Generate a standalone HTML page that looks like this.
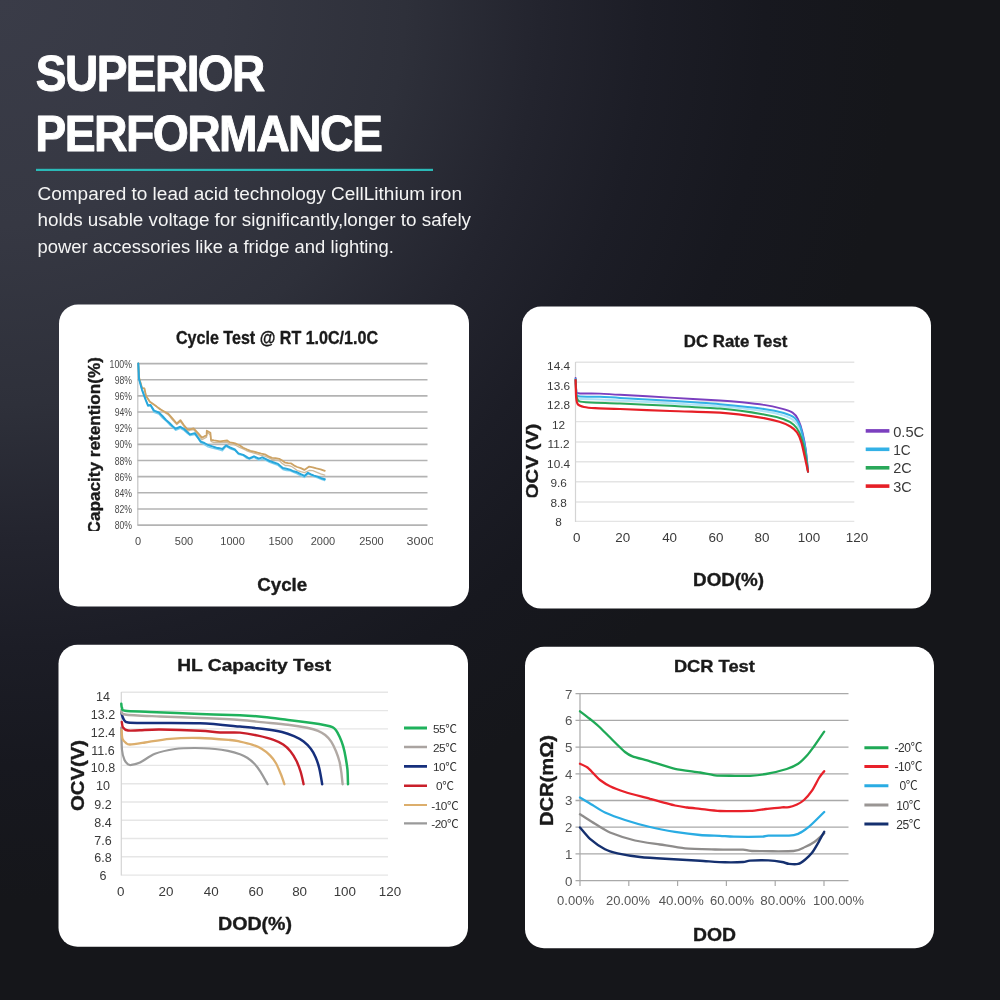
<!DOCTYPE html>
<html lang="en">
<head>
<meta charset="utf-8">
<title>Superior Performance</title>
<style>
html,body{margin:0;padding:0;}
body{width:1000px;height:1000px;overflow:hidden;background:#15161b;}
#page{position:relative;width:1000px;height:1000px;overflow:hidden;
background:radial-gradient(circle 900px at 0px 0px,#3a3c48 0%,#363843 25%,#2e303a 45%,#23242e 60%,#1c1d26 72%,#17181f 85%,#15161a 100%);}
svg{position:absolute;left:0;top:0;display:block;font-family:'Liberation Sans','Noto Sans CJK SC',sans-serif;}
text{white-space:pre;}
</style>
</head>
<body>
<div id="page">
<svg width="1000" height="1000" viewBox="0 0 1000 1000">
<rect x="59" y="304.5" width="410" height="302" rx="19" ry="19" fill="#fff"/>
<rect x="522" y="306.6" width="409" height="302" rx="19" ry="19" fill="#fff"/>
<rect x="58.5" y="644.7" width="409.5" height="302" rx="19" ry="19" fill="#fff"/>
<rect x="525" y="646.8" width="409" height="301.5" rx="19" ry="19" fill="#fff"/>
<text x="35.80" y="91.00" font-size="49.5" text-anchor="start" fill="#fff" font-weight="bold" textLength="228.0" lengthAdjust="spacingAndGlyphs" stroke="#fff" stroke-width="0.9" stroke-linejoin="round" letter-spacing="-1.7">SUPERIOR</text>
<text x="35.30" y="151.00" font-size="49.5" text-anchor="start" fill="#fff" font-weight="bold" textLength="346.0" lengthAdjust="spacingAndGlyphs" stroke="#fff" stroke-width="0.9" stroke-linejoin="round" letter-spacing="-1.7">PERFORMANCE</text>
<rect x="36" y="168.8" width="397" height="2.2" fill="#2bb9b7"/>
<text x="37.50" y="200.20" font-size="18.3" text-anchor="start" fill="#f4f4f4" textLength="424.5" lengthAdjust="spacingAndGlyphs" >Compared to lead acid technology CellLithium iron</text>
<text x="37.50" y="226.30" font-size="18.3" text-anchor="start" fill="#f4f4f4" textLength="433.5" lengthAdjust="spacingAndGlyphs" >holds usable voltage for significantly,longer to safely</text>
<text x="37.50" y="252.60" font-size="18.3" text-anchor="start" fill="#f4f4f4" textLength="356.5" lengthAdjust="spacingAndGlyphs" >power accessories like a fridge and lighting.</text>
<g id="c1">
<clipPath id="cl1"><rect x="59" y="304.5" width="373.5" height="226.5"/></clipPath>
<line x1="137.80" y1="363.00" x2="137.80" y2="525.50" stroke="#c4c4c4" stroke-width="1.2"/>
<line x1="137.50" y1="363.60" x2="427.50" y2="363.60" stroke="#b3b3b3" stroke-width="1.6"/>
<text x="132.00" y="367.69" font-size="10.6" text-anchor="end" fill="#4a4a4a" textLength="22.5" lengthAdjust="spacingAndGlyphs" >100%</text>
<line x1="137.50" y1="379.75" x2="427.50" y2="379.75" stroke="#b3b3b3" stroke-width="1.6"/>
<text x="132.00" y="383.84" font-size="10.6" text-anchor="end" fill="#4a4a4a" textLength="17.3" lengthAdjust="spacingAndGlyphs" >98%</text>
<line x1="137.50" y1="395.90" x2="427.50" y2="395.90" stroke="#b3b3b3" stroke-width="1.6"/>
<text x="132.00" y="399.99" font-size="10.6" text-anchor="end" fill="#4a4a4a" textLength="17.3" lengthAdjust="spacingAndGlyphs" >96%</text>
<line x1="137.50" y1="412.05" x2="427.50" y2="412.05" stroke="#b3b3b3" stroke-width="1.6"/>
<text x="132.00" y="416.14" font-size="10.6" text-anchor="end" fill="#4a4a4a" textLength="17.3" lengthAdjust="spacingAndGlyphs" >94%</text>
<line x1="137.50" y1="428.20" x2="427.50" y2="428.20" stroke="#b3b3b3" stroke-width="1.6"/>
<text x="132.00" y="432.29" font-size="10.6" text-anchor="end" fill="#4a4a4a" textLength="17.3" lengthAdjust="spacingAndGlyphs" >92%</text>
<line x1="137.50" y1="444.35" x2="427.50" y2="444.35" stroke="#b3b3b3" stroke-width="1.6"/>
<text x="132.00" y="448.44" font-size="10.6" text-anchor="end" fill="#4a4a4a" textLength="17.3" lengthAdjust="spacingAndGlyphs" >90%</text>
<line x1="137.50" y1="460.50" x2="427.50" y2="460.50" stroke="#b3b3b3" stroke-width="1.6"/>
<text x="132.00" y="464.59" font-size="10.6" text-anchor="end" fill="#4a4a4a" textLength="17.3" lengthAdjust="spacingAndGlyphs" >88%</text>
<line x1="137.50" y1="476.65" x2="427.50" y2="476.65" stroke="#b3b3b3" stroke-width="1.6"/>
<text x="132.00" y="480.74" font-size="10.6" text-anchor="end" fill="#4a4a4a" textLength="17.3" lengthAdjust="spacingAndGlyphs" >86%</text>
<line x1="137.50" y1="492.80" x2="427.50" y2="492.80" stroke="#b3b3b3" stroke-width="1.6"/>
<text x="132.00" y="496.89" font-size="10.6" text-anchor="end" fill="#4a4a4a" textLength="17.3" lengthAdjust="spacingAndGlyphs" >84%</text>
<line x1="137.50" y1="508.95" x2="427.50" y2="508.95" stroke="#b3b3b3" stroke-width="1.6"/>
<text x="132.00" y="513.04" font-size="10.6" text-anchor="end" fill="#4a4a4a" textLength="17.3" lengthAdjust="spacingAndGlyphs" >82%</text>
<line x1="137.50" y1="525.10" x2="427.50" y2="525.10" stroke="#b3b3b3" stroke-width="1.6"/>
<text x="132.00" y="529.19" font-size="10.6" text-anchor="end" fill="#4a4a4a" textLength="17.3" lengthAdjust="spacingAndGlyphs" >80%</text>
<text x="277.00" y="344.00" font-size="18.3" text-anchor="middle" fill="#1a1a1a" font-weight="bold" stroke="#1a1a1a" stroke-width="0.35" stroke-linejoin="round" textLength="202.0" lengthAdjust="spacingAndGlyphs" >Cycle Test @ RT 1.0C/1.0C</text>
<g clip-path="url(#cl1)">
<text x="100.20" y="533.50" font-size="16.5" text-anchor="start" fill="#1a1a1a" font-weight="bold" stroke="#1a1a1a" stroke-width="0.35" stroke-linejoin="round" textLength="176.5" lengthAdjust="spacingAndGlyphs" transform="rotate(-90 100.20 533.50)" >Capacity retention(%)</text>
</g>
<text x="138.00" y="545.34" font-size="11" text-anchor="middle" fill="#4a4a4a" >0</text>
<text x="184.00" y="545.34" font-size="11" text-anchor="middle" fill="#4a4a4a" >500</text>
<text x="232.60" y="545.34" font-size="11" text-anchor="middle" fill="#4a4a4a" >1000</text>
<text x="280.80" y="545.34" font-size="11" text-anchor="middle" fill="#4a4a4a" >1500</text>
<text x="323.00" y="545.34" font-size="11" text-anchor="middle" fill="#4a4a4a" >2000</text>
<text x="371.40" y="545.34" font-size="11" text-anchor="middle" fill="#4a4a4a" >2500</text>
<clipPath id="cl1b"><rect x="59" y="304.5" width="374" height="302"/></clipPath>
<g clip-path="url(#cl1b)">
<text x="406.50" y="545.34" font-size="11" text-anchor="start" fill="#4a4a4a" textLength="28.0" lengthAdjust="spacingAndGlyphs" >3000</text>
</g>
<text x="282.20" y="591.24" font-size="18" text-anchor="middle" fill="#1a1a1a" font-weight="bold" stroke="#1a1a1a" stroke-width="0.35" stroke-linejoin="round" textLength="50.0" lengthAdjust="spacingAndGlyphs" >Cycle</text>
<polyline points="138.3,363.4 139.2,378.0 142.0,387.8 144.4,388.3 146.0,396.2 149.8,401.4 153.2,404.2 156.6,406.5 160.0,408.6 164.2,412.2 168.4,414.9 172.6,420.1 176.8,424.6 180.4,421.6 184.0,426.4 187.6,431.3 190.6,430.0 193.6,429.5 197.8,434.7 202.0,439.8 206.6,437.1 206.8,432.1 210.4,435.1 211.0,441.3 214.0,442.6 217.0,442.4 220.0,442.6 223.6,442.3 227.2,442.2 230.0,444.5 233.0,444.5 236.0,445.5 239.6,447.3 243.2,448.9 246.8,450.8 250.4,452.2 254.0,453.1 257.6,454.1 261.2,455.5 264.8,456.1 268.4,457.6 272.0,459.4 275.6,460.0 279.2,460.6 282.2,463.4 285.2,465.5 288.2,465.5 291.2,466.3 294.2,468.2 297.2,470.5 300.8,471.7 304.4,472.6 309.2,470.5 312.8,470.7 316.4,472.1 320.6,473.8 324.8,475.0" fill="none" stroke="#cdbb9f" stroke-width="1.3" stroke-linejoin="round" stroke-linecap="round" />
<polyline points="138.3,363.4 139.0,379.0 142.0,389.5 145.6,399.4 148.0,404.9 150.4,405.0 154.0,412.5 158.8,414.1 162.4,418.0 166.0,421.0 169.2,424.4 172.4,427.3 175.6,430.3 180.4,428.4 184.0,430.5 187.0,433.3 190.0,435.6 194.8,434.6 197.8,438.2 200.8,443.0 204.4,444.7 208.0,446.9 212.2,448.2 216.4,449.2 219.4,449.9 222.4,450.8 226.0,446.5 230.0,448.8 234.8,450.3 238.4,454.4 243.2,455.6 246.2,458.1 249.2,459.2 254.0,457.5 258.8,460.1 262.4,459.4 266.0,460.4 269.6,462.5 273.8,463.8 278.0,465.4 282.8,469.5 286.4,470.5 290.0,470.8 293.6,472.4 297.2,473.9 300.8,475.9 304.4,477.5 308.0,473.7 311.0,475.2 314.0,476.7 317.6,477.9 321.2,479.4 324.8,480.6" fill="none" stroke="#7fd0f0" stroke-width="1.3" stroke-linejoin="round" stroke-linecap="round" />
<polyline points="138.3,363.4 139.2,378.0 142.0,388.1 144.4,388.4 146.0,395.7 149.8,401.7 153.2,404.1 156.6,406.6 160.0,409.3 164.2,411.5 168.4,413.8 172.6,418.7 176.8,423.5 180.4,420.1 184.0,425.2 187.6,429.6 190.6,429.1 193.6,428.4 197.8,432.9 202.0,437.7 206.6,435.1 206.8,430.7 210.4,432.7 211.0,439.9 214.0,440.4 217.0,440.8 220.0,441.3 223.6,440.8 227.2,440.5 230.0,442.4 233.0,442.9 236.0,443.7 239.6,445.3 243.2,447.7 246.8,449.3 250.4,450.8 254.0,451.7 257.6,452.7 261.2,453.6 264.8,454.3 268.4,456.3 272.0,457.9 275.6,458.2 279.2,458.8 282.2,460.6 285.2,462.7 288.2,463.2 291.2,463.4 294.2,465.6 297.2,467.0 300.8,468.1 304.4,469.9 309.2,466.6 312.8,467.3 316.4,468.4 320.6,469.3 324.8,470.8" fill="none" stroke="#cda365" stroke-width="1.8" stroke-linejoin="round" stroke-linecap="round" />
<polyline points="138.3,363.4 139.0,379.0 142.0,389.8 145.6,399.7 148.0,405.7 150.4,404.9 154.0,410.6 158.8,412.5 162.4,416.0 166.0,420.0 169.2,422.8 172.4,426.0 175.6,428.7 180.4,426.8 184.0,429.0 187.0,431.8 190.0,434.4 194.8,433.2 197.8,437.4 200.8,441.6 204.4,443.0 208.0,445.0 212.2,446.4 216.4,447.7 219.4,448.3 222.4,449.0 226.0,445.4 230.0,447.5 234.8,449.5 238.4,453.4 243.2,454.9 246.2,456.7 249.2,458.5 254.0,456.3 258.8,458.6 262.4,457.4 266.0,459.2 269.6,461.0 273.8,462.5 278.0,463.9 282.8,468.0 286.4,468.7 290.0,469.7 293.6,471.3 297.2,472.3 300.8,474.2 304.4,475.9 308.0,472.8 311.0,474.3 314.0,475.6 317.6,476.6 321.2,478.2 324.8,479.2" fill="none" stroke="#27a7dc" stroke-width="2.0" stroke-linejoin="round" stroke-linecap="round" />
</g>
<g id="c2">
<clipPath id="cl2"><rect x="522" y="306.6" width="409" height="190.6"/></clipPath>
<line x1="575.50" y1="362.30" x2="854.30" y2="362.30" stroke="#e4e4e4" stroke-width="1.4"/>
<text x="558.60" y="370.42" font-size="11.8" text-anchor="middle" fill="#3a3a3a" >14.4</text>
<line x1="575.50" y1="382.10" x2="854.30" y2="382.10" stroke="#e4e4e4" stroke-width="1.4"/>
<text x="558.60" y="390.02" font-size="11.8" text-anchor="middle" fill="#3a3a3a" >13.6</text>
<line x1="575.50" y1="401.80" x2="854.30" y2="401.80" stroke="#e4e4e4" stroke-width="1.4"/>
<text x="558.60" y="409.02" font-size="11.8" text-anchor="middle" fill="#3a3a3a" >12.8</text>
<line x1="575.50" y1="421.60" x2="854.30" y2="421.60" stroke="#e4e4e4" stroke-width="1.4"/>
<text x="558.60" y="429.02" font-size="11.8" text-anchor="middle" fill="#3a3a3a" >12</text>
<line x1="575.50" y1="442.00" x2="854.30" y2="442.00" stroke="#e4e4e4" stroke-width="1.4"/>
<text x="558.60" y="448.42" font-size="11.8" text-anchor="middle" fill="#3a3a3a" >11.2</text>
<line x1="575.50" y1="461.80" x2="854.30" y2="461.80" stroke="#e4e4e4" stroke-width="1.4"/>
<text x="558.60" y="468.22" font-size="11.8" text-anchor="middle" fill="#3a3a3a" >10.4</text>
<line x1="575.50" y1="481.70" x2="854.30" y2="481.70" stroke="#e4e4e4" stroke-width="1.4"/>
<text x="558.60" y="487.22" font-size="11.8" text-anchor="middle" fill="#3a3a3a" >9.6</text>
<line x1="575.50" y1="502.00" x2="854.30" y2="502.00" stroke="#e4e4e4" stroke-width="1.4"/>
<text x="558.60" y="506.62" font-size="11.8" text-anchor="middle" fill="#3a3a3a" >8.8</text>
<line x1="575.50" y1="521.40" x2="854.30" y2="521.40" stroke="#e4e4e4" stroke-width="1.4"/>
<text x="558.60" y="526.02" font-size="11.8" text-anchor="middle" fill="#3a3a3a" >8</text>
<line x1="575.50" y1="362.00" x2="575.50" y2="522.00" stroke="#d4d4d4" stroke-width="1.2"/>
<text x="735.60" y="347.00" font-size="16.5" text-anchor="middle" fill="#1a1a1a" font-weight="bold" stroke="#1a1a1a" stroke-width="0.35" stroke-linejoin="round" textLength="103.5" lengthAdjust="spacingAndGlyphs" >DC Rate Test</text>
<g clip-path="url(#cl2)">
<text x="538.30" y="499.00" font-size="16.8" text-anchor="start" fill="#1a1a1a" font-weight="bold" stroke="#1a1a1a" stroke-width="0.35" stroke-linejoin="round" textLength="75.5" lengthAdjust="spacingAndGlyphs" transform="rotate(-90 538.30 499.00)" >OCV (V)</text>
</g>
<text x="576.80" y="541.70" font-size="13.4" text-anchor="middle" fill="#3a3a3a" >0</text>
<text x="622.80" y="541.70" font-size="13.4" text-anchor="middle" fill="#3a3a3a" >20</text>
<text x="669.60" y="541.70" font-size="13.4" text-anchor="middle" fill="#3a3a3a" >40</text>
<text x="716.00" y="541.70" font-size="13.4" text-anchor="middle" fill="#3a3a3a" >60</text>
<text x="762.00" y="541.70" font-size="13.4" text-anchor="middle" fill="#3a3a3a" >80</text>
<text x="809.00" y="541.70" font-size="13.4" text-anchor="middle" fill="#3a3a3a" >100</text>
<text x="857.00" y="541.70" font-size="13.4" text-anchor="middle" fill="#3a3a3a" >120</text>
<text x="728.60" y="585.56" font-size="17.5" text-anchor="middle" fill="#1a1a1a" font-weight="bold" stroke="#1a1a1a" stroke-width="0.35" stroke-linejoin="round" textLength="71.0" lengthAdjust="spacingAndGlyphs" >DOD(%)</text>
<path d="M577.0,396.0 C577.3,396.4 575.9,398.3 579.0,398.8 C582.1,399.3 594.5,399.2 600.0,399.4 C605.5,399.6 610.7,400.0 620.0,400.5 C629.3,401.0 656.7,402.4 670.0,403.2 C683.3,404.0 707.5,405.2 720.0,406.3 C732.5,407.4 755.5,410.0 764.0,411.2 C772.5,412.4 779.7,414.3 783.8,415.6 C787.9,416.9 792.4,419.1 794.5,421.0 C796.6,422.9 798.6,426.6 799.8,429.5 C801.0,432.4 802.9,439.5 803.8,443.0 C804.7,446.5 805.6,452.2 806.2,456.0 C806.8,459.8 807.8,469.5 808.0,471.6" fill="none" stroke="#aee3f6" stroke-width="2.0" stroke-linejoin="round" stroke-linecap="round"/>
<path d="M575.6,378.0 C575.7,379.6 575.9,388.0 576.3,390.0 C576.7,392.0 575.3,392.7 578.5,393.2 C581.7,393.7 594.5,393.4 600.0,393.6 C605.5,393.8 610.7,394.3 620.0,394.8 C629.3,395.3 656.7,396.8 670.0,397.6 C683.3,398.4 710.4,399.9 720.0,400.5 C729.6,401.1 736.1,401.7 742.0,402.3 C747.9,402.9 758.7,404.1 764.0,404.9 C769.3,405.7 777.8,407.6 781.6,408.6 C785.4,409.6 790.4,411.2 792.6,412.6 C794.8,414.0 796.7,416.6 798.0,419.2 C799.3,421.8 801.5,428.3 802.5,432.4 C803.5,436.5 805.1,444.8 805.8,450.0 C806.5,455.2 807.7,468.7 808.0,471.6" fill="none" stroke="#7b3fbf" stroke-width="1.9" stroke-linejoin="round" stroke-linecap="round"/>
<path d="M575.6,379.0 C575.7,380.7 575.9,389.7 576.3,392.0 C576.7,394.3 575.3,395.6 578.5,396.2 C581.7,396.8 594.5,396.6 600.0,396.8 C605.5,397.0 610.7,397.4 620.0,397.9 C629.3,398.4 656.7,400.0 670.0,400.8 C683.3,401.6 707.5,403.1 720.0,404.2 C732.5,405.3 755.5,407.7 764.0,408.9 C772.5,410.1 779.7,411.8 783.8,413.0 C787.9,414.2 792.6,416.2 794.8,418.1 C797.0,420.0 799.1,423.8 800.3,426.9 C801.5,430.0 803.2,437.5 804.0,441.2 C804.8,444.9 805.8,450.9 806.3,455.0 C806.8,459.1 807.8,469.4 808.0,471.6" fill="none" stroke="#33b1e6" stroke-width="2.0" stroke-linejoin="round" stroke-linecap="round"/>
<path d="M575.6,380.0 C575.7,382.1 576.0,393.2 576.5,396.0 C577.0,398.8 577.2,400.3 579.0,401.2 C580.8,402.1 584.5,402.3 590.0,402.6 C595.5,402.9 609.3,403.2 620.0,403.6 C630.7,404.0 656.7,405.1 670.0,405.8 C683.3,406.5 707.5,407.5 720.0,408.6 C732.5,409.7 755.5,413.0 764.0,414.4 C772.5,415.8 779.8,417.8 783.8,419.2 C787.8,420.6 791.6,422.9 793.7,424.7 C795.8,426.5 797.9,429.6 799.2,432.4 C800.5,435.2 802.7,442.2 803.6,445.6 C804.5,449.0 805.4,454.5 806.0,458.0 C806.6,461.5 807.7,469.8 808.0,471.6" fill="none" stroke="#2aa85a" stroke-width="2.0" stroke-linejoin="round" stroke-linecap="round"/>
<path d="M575.6,380.0 C575.7,382.4 575.9,394.7 576.2,398.0 C576.5,401.3 577.0,403.3 578.0,404.5 C579.0,405.7 581.7,406.5 584.0,407.0 C586.3,407.5 590.2,407.9 595.0,408.2 C599.8,408.5 610.0,408.6 620.0,409.0 C630.0,409.4 656.7,410.5 670.0,411.0 C683.3,411.5 710.4,412.1 720.0,412.6 C729.6,413.1 736.1,414.1 742.0,414.8 C747.9,415.5 759.0,417.2 764.0,418.1 C769.0,419.0 775.9,420.7 779.4,421.8 C782.9,422.9 788.1,425.1 790.4,426.5 C792.7,427.9 795.5,430.3 797.0,432.4 C798.5,434.5 800.4,439.1 801.4,442.3 C802.4,445.5 803.8,452.7 804.7,456.6 C805.6,460.5 807.6,469.6 808.0,471.6" fill="none" stroke="#e61f26" stroke-width="2.2" stroke-linejoin="round" stroke-linecap="round"/>
<line x1="865.70" y1="430.90" x2="889.40" y2="430.90" stroke="#7b3fbf" stroke-width="3.6"/>
<text x="893.20" y="436.58" font-size="14.2" text-anchor="start" fill="#3a3a3a" textLength="31.0" lengthAdjust="spacingAndGlyphs" >0.5C</text>
<line x1="865.70" y1="449.30" x2="889.40" y2="449.30" stroke="#33b1e6" stroke-width="3.6"/>
<text x="893.20" y="454.98" font-size="14.2" text-anchor="start" fill="#3a3a3a" textLength="17.5" lengthAdjust="spacingAndGlyphs" >1C</text>
<line x1="865.70" y1="467.80" x2="889.40" y2="467.80" stroke="#2aa85a" stroke-width="3.6"/>
<text x="893.20" y="473.48" font-size="14.2" text-anchor="start" fill="#3a3a3a" textLength="18.5" lengthAdjust="spacingAndGlyphs" >2C</text>
<line x1="865.70" y1="486.10" x2="889.40" y2="486.10" stroke="#e61f26" stroke-width="3.6"/>
<text x="893.20" y="491.78" font-size="14.2" text-anchor="start" fill="#3a3a3a" textLength="18.5" lengthAdjust="spacingAndGlyphs" >3C</text>
</g>
<g id="c3">
<clipPath id="cl3"><rect x="58.5" y="644.7" width="399.5" height="302"/></clipPath>
<line x1="121.30" y1="692.30" x2="388.00" y2="692.30" stroke="#e6e6e6" stroke-width="1.4"/>
<text x="103.00" y="700.98" font-size="12.5" text-anchor="middle" fill="#3a3a3a" >14</text>
<line x1="121.30" y1="710.58" x2="388.00" y2="710.58" stroke="#e6e6e6" stroke-width="1.4"/>
<text x="103.00" y="719.48" font-size="12.5" text-anchor="middle" fill="#3a3a3a" >13.2</text>
<line x1="121.30" y1="728.86" x2="388.00" y2="728.86" stroke="#e6e6e6" stroke-width="1.4"/>
<text x="103.00" y="736.77" font-size="12.5" text-anchor="middle" fill="#3a3a3a" >12.4</text>
<line x1="121.30" y1="747.14" x2="388.00" y2="747.14" stroke="#e6e6e6" stroke-width="1.4"/>
<text x="103.00" y="754.77" font-size="12.5" text-anchor="middle" fill="#3a3a3a" >11.6</text>
<line x1="121.30" y1="765.42" x2="388.00" y2="765.42" stroke="#e6e6e6" stroke-width="1.4"/>
<text x="103.00" y="772.27" font-size="12.5" text-anchor="middle" fill="#3a3a3a" >10.8</text>
<line x1="121.30" y1="783.70" x2="388.00" y2="783.70" stroke="#e6e6e6" stroke-width="1.4"/>
<text x="103.00" y="790.48" font-size="12.5" text-anchor="middle" fill="#3a3a3a" >10</text>
<line x1="121.30" y1="801.98" x2="388.00" y2="801.98" stroke="#e6e6e6" stroke-width="1.4"/>
<text x="103.00" y="809.08" font-size="12.5" text-anchor="middle" fill="#3a3a3a" >9.2</text>
<line x1="121.30" y1="820.26" x2="388.00" y2="820.26" stroke="#e6e6e6" stroke-width="1.4"/>
<text x="103.00" y="826.98" font-size="12.5" text-anchor="middle" fill="#3a3a3a" >8.4</text>
<line x1="121.30" y1="838.54" x2="388.00" y2="838.54" stroke="#e6e6e6" stroke-width="1.4"/>
<text x="103.00" y="844.88" font-size="12.5" text-anchor="middle" fill="#3a3a3a" >7.6</text>
<line x1="121.30" y1="856.82" x2="388.00" y2="856.82" stroke="#e6e6e6" stroke-width="1.4"/>
<text x="103.00" y="862.48" font-size="12.5" text-anchor="middle" fill="#3a3a3a" >6.8</text>
<line x1="121.30" y1="875.10" x2="388.00" y2="875.10" stroke="#e6e6e6" stroke-width="1.4"/>
<text x="103.00" y="880.48" font-size="12.5" text-anchor="middle" fill="#3a3a3a" >6</text>
<line x1="121.30" y1="692.00" x2="121.30" y2="875.50" stroke="#d4d4d4" stroke-width="1.2"/>
<text x="254.20" y="671.00" font-size="16.5" text-anchor="middle" fill="#1a1a1a" font-weight="bold" stroke="#1a1a1a" stroke-width="0.35" stroke-linejoin="round" textLength="154.0" lengthAdjust="spacingAndGlyphs" >HL Capacity Test</text>
<text x="83.60" y="811.00" font-size="17.5" text-anchor="start" fill="#1a1a1a" font-weight="bold" stroke="#1a1a1a" stroke-width="0.35" stroke-linejoin="round" textLength="71.0" lengthAdjust="spacingAndGlyphs" transform="rotate(-90 83.60 811.00)" >OCV(V)</text>
<text x="120.80" y="896.00" font-size="13.4" text-anchor="middle" fill="#3a3a3a" >0</text>
<text x="166.00" y="896.00" font-size="13.4" text-anchor="middle" fill="#3a3a3a" >20</text>
<text x="211.20" y="896.00" font-size="13.4" text-anchor="middle" fill="#3a3a3a" >40</text>
<text x="256.00" y="896.00" font-size="13.4" text-anchor="middle" fill="#3a3a3a" >60</text>
<text x="299.60" y="896.00" font-size="13.4" text-anchor="middle" fill="#3a3a3a" >80</text>
<text x="344.80" y="896.00" font-size="13.4" text-anchor="middle" fill="#3a3a3a" >100</text>
<text x="390.00" y="896.00" font-size="13.4" text-anchor="middle" fill="#3a3a3a" >120</text>
<text x="255.00" y="929.74" font-size="18" text-anchor="middle" fill="#1a1a1a" font-weight="bold" stroke="#1a1a1a" stroke-width="0.35" stroke-linejoin="round" textLength="74.0" lengthAdjust="spacingAndGlyphs" >DOD(%)</text>
<path d="M121.3,727.5 C121.4,730.9 121.5,745.1 122.0,750.0 C122.5,754.9 123.6,757.9 124.5,760.0 C125.4,762.1 127.0,763.5 128.0,764.3 C129.0,765.0 129.2,765.3 131.0,765.0 C132.8,764.7 136.4,764.2 140.0,762.5 C143.6,760.8 149.8,755.8 155.0,753.8 C160.2,751.8 169.0,749.9 175.0,749.0 C181.0,748.1 189.0,748.0 195.0,748.0 C201.0,748.0 210.1,748.6 215.0,749.0 C219.9,749.4 224.2,750.1 228.0,750.9 C231.8,751.7 237.1,753.2 240.0,754.2 C242.9,755.2 245.0,756.4 247.2,757.8 C249.4,759.2 252.4,761.7 254.4,763.8 C256.4,765.9 258.4,768.5 260.4,771.6 C262.4,774.7 266.5,782.3 267.6,784.2" fill="none" stroke="#9a9a9a" stroke-width="2.2" stroke-linejoin="round" stroke-linecap="round"/>
<path d="M121.6,730.0 C121.7,731.3 121.8,736.8 122.5,738.8 C123.2,740.8 124.9,742.1 126.0,743.0 C127.1,743.9 127.2,744.6 130.0,744.5 C132.8,744.4 139.0,743.4 145.0,742.5 C151.0,741.6 161.8,739.5 170.0,738.8 C178.2,738.1 191.0,737.8 200.0,738.0 C209.0,738.2 224.0,739.5 230.0,740.0 C236.0,740.5 236.7,740.9 240.0,741.6 C243.3,742.3 248.8,743.5 252.0,744.6 C255.2,745.7 258.9,747.2 261.6,748.8 C264.3,750.4 267.8,753.2 270.0,755.4 C272.2,757.6 274.4,760.4 276.0,763.2 C277.6,766.0 279.5,770.9 280.8,774.0 C282.1,777.1 283.9,782.7 284.4,784.2" fill="none" stroke="#dcae6c" stroke-width="2.3" stroke-linejoin="round" stroke-linecap="round"/>
<path d="M121.8,722.0 C122.0,722.8 122.1,726.2 123.0,727.5 C123.9,728.8 125.5,730.1 128.0,730.5 C130.6,730.9 135.2,730.4 140.0,730.3 C144.8,730.1 151.0,729.4 160.0,729.5 C169.0,729.6 191.0,730.3 200.0,730.8 C209.0,731.2 214.0,732.2 220.0,732.5 C226.0,732.8 234.3,732.1 240.0,732.6 C245.7,733.1 253.0,734.5 258.0,735.6 C263.0,736.7 269.8,738.4 273.6,739.8 C277.4,741.1 280.7,742.9 283.2,744.6 C285.7,746.3 288.4,748.8 290.4,751.2 C292.4,753.6 294.9,757.7 296.4,760.8 C297.9,763.9 299.5,768.1 300.6,771.6 C301.7,775.1 303.2,782.3 303.6,784.2" fill="none" stroke="#c91f2a" stroke-width="2.4" stroke-linejoin="round" stroke-linecap="round"/>
<path d="M121.3,712.5 C121.6,713.5 122.5,717.5 123.5,719.0 C124.5,720.5 124.0,721.9 128.0,722.5 C132.0,723.1 139.2,722.9 150.0,723.0 C160.8,723.1 186.5,722.8 200.0,723.3 C213.5,723.8 230.4,725.7 240.0,726.6 C249.6,727.5 257.7,728.2 264.0,729.0 C270.3,729.8 277.5,730.9 282.0,732.0 C286.5,733.1 290.8,734.8 294.0,736.2 C297.2,737.6 301.1,739.7 303.6,741.6 C306.1,743.5 309.0,746.5 310.8,748.8 C312.6,751.1 314.3,754.3 315.6,757.2 C316.9,760.1 318.2,764.0 319.2,768.0 C320.2,772.0 321.8,781.8 322.2,784.2" fill="none" stroke="#162f7c" stroke-width="2.5" stroke-linejoin="round" stroke-linecap="round"/>
<path d="M121.5,710.0 C122.0,710.7 119.2,713.5 125.0,714.5 C130.8,715.5 148.8,716.0 160.0,716.5 C171.2,717.0 188.0,717.5 200.0,718.0 C212.0,718.5 230.4,719.3 240.0,720.0 C249.6,720.7 256.8,721.7 264.0,722.4 C271.2,723.1 281.5,724.0 288.0,724.8 C294.5,725.6 302.7,726.9 307.2,727.8 C311.7,728.7 315.3,729.7 318.0,730.8 C320.7,731.9 323.2,733.4 325.2,735.0 C327.2,736.6 329.6,739.2 331.2,741.6 C332.8,744.0 334.7,748.1 336.0,751.2 C337.3,754.3 338.8,758.8 339.6,762.0 C340.4,765.2 340.9,769.5 341.4,772.8 C341.8,776.1 342.4,782.5 342.6,784.2" fill="none" stroke="#b1a9a4" stroke-width="2.4" stroke-linejoin="round" stroke-linecap="round"/>
<path d="M121.3,703.8 C121.4,704.4 121.4,707.0 122.0,708.0 C122.6,709.0 120.8,710.2 125.0,710.8 C129.2,711.4 138.8,711.5 150.0,712.0 C161.2,712.5 186.5,713.5 200.0,714.0 C213.5,714.5 230.4,714.8 240.0,715.2 C249.6,715.7 256.8,716.3 264.0,717.0 C271.2,717.7 280.8,719.1 288.0,720.0 C295.2,720.9 306.2,722.2 312.0,723.0 C317.8,723.8 323.3,724.8 326.4,725.4 C329.5,726.0 331.0,726.5 332.4,727.2 C333.8,727.9 334.9,728.8 336.0,730.2 C337.1,731.6 338.5,734.4 339.6,736.8 C340.7,739.2 342.3,743.3 343.2,746.4 C344.1,749.5 345.0,753.8 345.6,757.2 C346.2,760.6 347.0,765.2 347.4,769.2 C347.8,773.2 347.9,782.0 348.0,784.2" fill="none" stroke="#1fb25c" stroke-width="2.5" stroke-linejoin="round" stroke-linecap="round"/>
<g clip-path="url(#cl3)">
<line x1="404.00" y1="728.00" x2="427.00" y2="728.00" stroke="#1fb25c" stroke-width="2.8"/>
<text x="444.80" y="732.52" font-size="11.8" text-anchor="middle" fill="#333" letter-spacing="-0.45">55℃</text>
<line x1="404.00" y1="747.00" x2="427.00" y2="747.00" stroke="#aaa4a1" stroke-width="2.6"/>
<text x="444.80" y="751.52" font-size="11.8" text-anchor="middle" fill="#333" letter-spacing="-0.45">25℃</text>
<line x1="404.00" y1="766.40" x2="427.00" y2="766.40" stroke="#162f7c" stroke-width="2.8"/>
<text x="444.80" y="770.92" font-size="11.8" text-anchor="middle" fill="#333" letter-spacing="-0.45">10℃</text>
<line x1="404.00" y1="785.70" x2="427.00" y2="785.70" stroke="#c91f2a" stroke-width="2.6"/>
<text x="444.80" y="790.22" font-size="11.8" text-anchor="middle" fill="#333" letter-spacing="-0.45">0℃</text>
<line x1="404.00" y1="805.00" x2="427.00" y2="805.00" stroke="#dcae6c" stroke-width="2.2"/>
<text x="444.80" y="809.52" font-size="11.8" text-anchor="middle" fill="#333" letter-spacing="-0.45">-10℃</text>
<line x1="404.00" y1="823.30" x2="427.00" y2="823.30" stroke="#9a9a9a" stroke-width="2.2"/>
<text x="444.80" y="827.82" font-size="11.8" text-anchor="middle" fill="#333" letter-spacing="-0.45">-20℃</text>
</g>
</g>
<g id="c4">
<clipPath id="cl4"><rect x="525" y="646.8" width="398.8" height="301.5"/></clipPath>
<line x1="575.50" y1="693.70" x2="848.50" y2="693.70" stroke="#a9a9a9" stroke-width="1.3"/>
<text x="568.80" y="698.66" font-size="13.3" text-anchor="middle" fill="#555" >7</text>
<line x1="575.50" y1="720.40" x2="848.50" y2="720.40" stroke="#a9a9a9" stroke-width="1.3"/>
<text x="568.80" y="725.36" font-size="13.3" text-anchor="middle" fill="#555" >6</text>
<line x1="575.50" y1="747.10" x2="848.50" y2="747.10" stroke="#a9a9a9" stroke-width="1.3"/>
<text x="568.80" y="752.06" font-size="13.3" text-anchor="middle" fill="#555" >5</text>
<line x1="575.50" y1="773.80" x2="848.50" y2="773.80" stroke="#a9a9a9" stroke-width="1.3"/>
<text x="568.80" y="778.76" font-size="13.3" text-anchor="middle" fill="#555" >4</text>
<line x1="575.50" y1="800.50" x2="848.50" y2="800.50" stroke="#a9a9a9" stroke-width="1.3"/>
<text x="568.80" y="805.46" font-size="13.3" text-anchor="middle" fill="#555" >3</text>
<line x1="575.50" y1="827.20" x2="848.50" y2="827.20" stroke="#a9a9a9" stroke-width="1.3"/>
<text x="568.80" y="832.16" font-size="13.3" text-anchor="middle" fill="#555" >2</text>
<line x1="575.50" y1="853.90" x2="848.50" y2="853.90" stroke="#a9a9a9" stroke-width="1.3"/>
<text x="568.80" y="858.86" font-size="13.3" text-anchor="middle" fill="#555" >1</text>
<line x1="575.50" y1="880.60" x2="848.50" y2="880.60" stroke="#a9a9a9" stroke-width="1.3"/>
<text x="568.80" y="885.56" font-size="13.3" text-anchor="middle" fill="#555" >0</text>
<line x1="580.00" y1="693.70" x2="580.00" y2="886.00" stroke="#a9a9a9" stroke-width="1.2"/>
<line x1="628.80" y1="880.60" x2="628.80" y2="886.00" stroke="#a9a9a9" stroke-width="1.2"/>
<line x1="677.60" y1="880.60" x2="677.60" y2="886.00" stroke="#a9a9a9" stroke-width="1.2"/>
<line x1="726.40" y1="880.60" x2="726.40" y2="886.00" stroke="#a9a9a9" stroke-width="1.2"/>
<line x1="775.20" y1="880.60" x2="775.20" y2="886.00" stroke="#a9a9a9" stroke-width="1.2"/>
<line x1="824.00" y1="880.60" x2="824.00" y2="886.00" stroke="#a9a9a9" stroke-width="1.2"/>
<text x="714.40" y="671.60" font-size="17" text-anchor="middle" fill="#1a1a1a" font-weight="bold" stroke="#1a1a1a" stroke-width="0.35" stroke-linejoin="round" textLength="81.0" lengthAdjust="spacingAndGlyphs" >DCR Test</text>
<text x="552.50" y="826.00" font-size="17.5" text-anchor="start" fill="#1a1a1a" font-weight="bold" stroke="#1a1a1a" stroke-width="0.35" stroke-linejoin="round" textLength="91.0" lengthAdjust="spacingAndGlyphs" transform="rotate(-90 552.50 826.00)" >DCR(mΩ)</text>
<text x="575.60" y="904.65" font-size="13" text-anchor="middle" fill="#555" textLength="37.0" lengthAdjust="spacingAndGlyphs" >0.00%</text>
<text x="628.00" y="904.65" font-size="13" text-anchor="middle" fill="#555" textLength="44.0" lengthAdjust="spacingAndGlyphs" >20.00%</text>
<text x="681.20" y="904.65" font-size="13" text-anchor="middle" fill="#555" textLength="45.0" lengthAdjust="spacingAndGlyphs" >40.00%</text>
<text x="732.00" y="904.65" font-size="13" text-anchor="middle" fill="#555" textLength="44.0" lengthAdjust="spacingAndGlyphs" >60.00%</text>
<text x="783.00" y="904.65" font-size="13" text-anchor="middle" fill="#555" textLength="45.5" lengthAdjust="spacingAndGlyphs" >80.00%</text>
<text x="838.50" y="904.65" font-size="13" text-anchor="middle" fill="#555" textLength="51.0" lengthAdjust="spacingAndGlyphs" >100.00%</text>
<text x="714.60" y="940.80" font-size="19" text-anchor="middle" fill="#1a1a1a" font-weight="bold" stroke="#1a1a1a" stroke-width="0.35" stroke-linejoin="round" textLength="43.0" lengthAdjust="spacingAndGlyphs" >DOD</text>
<path d="M580.0,711.3 C581.2,712.2 587.7,717.1 590.0,719.0 C592.3,720.9 597.4,725.0 600.0,727.5 C602.6,730.0 609.6,737.1 612.5,740.0 C615.4,742.9 622.7,750.1 625.0,752.0 C627.3,753.9 629.6,755.2 632.5,756.3 C635.4,757.4 645.0,759.8 650.0,761.3 C655.0,762.8 669.2,767.5 675.0,768.8 C680.8,770.1 695.3,771.7 700.0,772.5 C704.7,773.3 710.9,774.9 715.0,775.3 C719.1,775.7 730.9,775.7 735.0,775.8 C739.1,775.9 746.4,776.0 750.0,775.8 C753.6,775.6 761.7,774.8 766.0,774.0 C770.3,773.2 782.9,770.2 786.7,769.0 C790.5,767.8 795.8,765.4 798.2,763.8 C800.6,762.2 805.5,757.1 807.4,755.0 C809.3,752.9 812.3,748.7 814.3,746.0 C816.3,743.3 823.0,733.3 824.2,731.6" fill="none" stroke="#1fa956" stroke-width="2.3" stroke-linejoin="round" stroke-linecap="round"/>
<path d="M580.0,763.8 C580.9,764.2 585.9,766.3 587.5,767.5 C589.1,768.7 592.5,772.5 594.0,774.0 C595.5,775.5 598.1,778.6 600.0,780.0 C601.9,781.4 607.1,784.9 610.0,786.3 C612.9,787.7 620.3,790.5 625.0,792.0 C629.7,793.5 644.2,797.2 650.0,798.8 C655.8,800.4 670.6,804.5 675.0,805.5 C679.4,806.5 684.6,807.1 687.5,807.5 C690.4,807.9 696.2,808.4 700.0,808.8 C703.8,809.2 714.2,810.8 720.0,811.0 C725.8,811.2 744.6,811.1 750.0,810.9 C755.4,810.7 762.3,809.4 766.0,809.0 C769.7,808.6 779.3,807.5 782.0,807.3 C784.7,807.1 787.2,807.5 789.0,807.2 C790.8,806.9 795.2,805.3 797.0,804.5 C798.8,803.7 802.2,801.6 804.0,800.0 C805.8,798.4 810.2,793.3 812.0,790.7 C813.8,788.1 817.6,780.3 819.0,778.0 C820.4,775.7 823.6,772.0 824.2,771.2" fill="none" stroke="#e8212a" stroke-width="2.3" stroke-linejoin="round" stroke-linecap="round"/>
<path d="M580.0,797.5 C581.5,798.4 589.6,803.2 592.5,805.0 C595.4,806.8 601.2,810.8 605.0,812.5 C608.8,814.2 619.8,818.3 625.0,820.0 C630.2,821.7 644.2,825.6 650.0,827.0 C655.8,828.4 669.2,830.9 675.0,831.8 C680.8,832.7 694.8,834.5 700.0,835.0 C705.2,835.5 716.1,835.6 720.0,835.8 C723.9,836.0 729.0,836.6 733.8,836.7 C738.6,836.8 757.4,836.8 761.4,836.7 C765.4,836.6 765.1,835.7 768.3,835.6 C771.5,835.5 785.5,835.8 789.0,835.6 C792.5,835.4 796.3,834.5 798.2,833.8 C800.1,833.1 803.4,830.9 805.0,829.8 C806.6,828.7 809.8,826.1 812.0,824.0 C814.2,821.9 822.8,813.4 824.2,812.0" fill="none" stroke="#2aace3" stroke-width="2.3" stroke-linejoin="round" stroke-linecap="round"/>
<path d="M580.0,814.3 C581.8,815.4 591.5,821.7 595.0,823.8 C598.5,825.9 605.3,830.6 610.0,832.5 C614.7,834.4 629.2,839.1 635.0,840.5 C640.8,841.9 654.2,843.6 660.0,844.5 C665.8,845.4 678.6,847.7 685.0,848.3 C691.4,848.9 708.2,849.3 715.0,849.5 C721.8,849.7 738.7,849.4 743.0,849.6 C747.3,849.8 746.1,850.8 752.0,851.0 C757.9,851.2 787.4,851.5 793.6,851.0 C799.8,850.5 802.6,848.0 805.0,847.0 C807.4,846.0 812.1,843.6 814.3,842.0 C816.5,840.4 823.0,834.3 824.2,833.3" fill="none" stroke="#8e8c8b" stroke-width="2.3" stroke-linejoin="round" stroke-linecap="round"/>
<path d="M580.0,827.5 C581.2,828.8 587.1,836.3 590.0,838.8 C592.9,841.3 601.8,847.6 605.0,849.3 C608.2,851.0 613.4,852.4 617.5,853.3 C621.6,854.2 634.5,856.4 640.0,857.0 C645.5,857.6 658.0,858.4 665.0,858.8 C672.0,859.2 693.0,860.4 700.0,860.8 C707.0,861.2 720.0,862.2 725.0,862.3 C730.0,862.4 740.1,862.2 743.0,862.0 C745.9,861.8 747.0,860.8 750.0,860.6 C753.0,860.4 764.6,860.2 768.3,860.4 C772.0,860.6 779.6,861.6 782.0,862.0 C784.4,862.4 787.1,863.7 789.0,863.9 C790.9,864.1 796.3,864.4 798.2,863.9 C800.1,863.4 803.4,861.0 805.0,859.7 C806.6,858.4 810.4,854.9 812.0,852.8 C813.6,850.7 817.6,843.8 819.0,841.3 C820.4,838.8 823.6,832.8 824.2,831.7" fill="none" stroke="#15306f" stroke-width="2.4" stroke-linejoin="round" stroke-linecap="round"/>
<g clip-path="url(#cl4)">
<line x1="864.40" y1="747.70" x2="888.40" y2="747.70" stroke="#1fa956" stroke-width="3"/>
<text x="908.30" y="752.30" font-size="12" text-anchor="middle" fill="#333" letter-spacing="-0.45">-20℃</text>
<line x1="864.40" y1="766.60" x2="888.40" y2="766.60" stroke="#e8212a" stroke-width="3"/>
<text x="908.30" y="771.20" font-size="12" text-anchor="middle" fill="#333" letter-spacing="-0.45">-10℃</text>
<line x1="864.40" y1="785.70" x2="888.40" y2="785.70" stroke="#2aace3" stroke-width="3"/>
<text x="908.30" y="790.30" font-size="12" text-anchor="middle" fill="#333" letter-spacing="-0.45">0℃</text>
<line x1="864.40" y1="805.00" x2="888.40" y2="805.00" stroke="#9a9694" stroke-width="3"/>
<text x="908.30" y="809.60" font-size="12" text-anchor="middle" fill="#333" letter-spacing="-0.45">10℃</text>
<line x1="864.40" y1="824.10" x2="888.40" y2="824.10" stroke="#15306f" stroke-width="3"/>
<text x="908.30" y="828.70" font-size="12" text-anchor="middle" fill="#333" letter-spacing="-0.45">25℃</text>
</g>
</g>
</svg>
</div>
</body>
</html>
